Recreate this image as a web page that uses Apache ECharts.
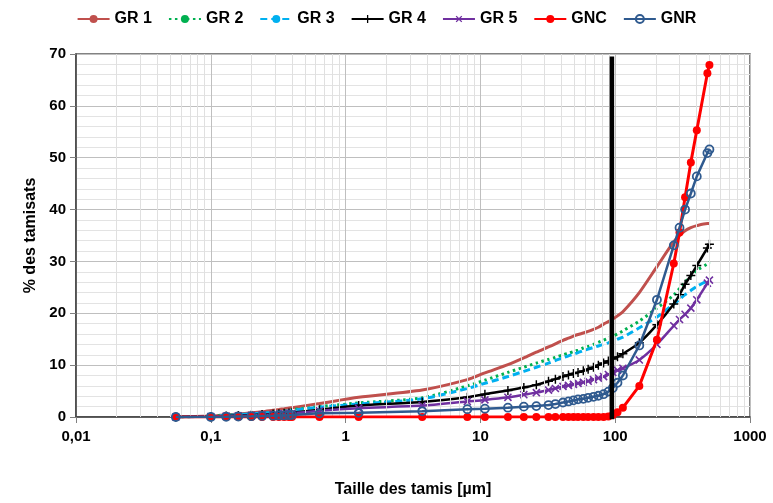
<!DOCTYPE html>
<html>
<head>
<meta charset="utf-8">
<script src="https://cdn.jsdelivr.net/npm/echarts@6/dist/echarts.min.js"></script>
<style>
html, body { margin: 0; padding: 0; background: #fff; }
#chart { width: 773px; height: 503px; }
</style>
</head>
<body>
<div id="chart"></div>
<script>
// tailles des tamis (µm)
var sizes = [0.055, 0.1, 0.13, 0.16, 0.2, 0.24, 0.29, 0.32, 0.35, 0.38, 0.4, 0.64, 1.25, 3.7, 8, 10.8, 16, 21, 26, 32, 36, 41, 45, 49, 53, 58, 63, 69, 75, 82, 89, 96, 104, 114, 151, 204, 272, 300, 330, 364, 403, 483, 500];

var gr1 = [0, 0.2, 0.4, 0.6, 0.8, 1.0, 1.3, 1.45, 1.6, 1.75, 1.8, 2.6, 3.8, 5.2, 7.2, 8.5, 10.1, 11.4, 12.5, 13.5, 14.1, 14.8, 15.2, 15.6, 15.9, 16.2, 16.5, 16.9, 17.3, 17.9, 18.4, 18.9, 19.5, 20.3, 24.0, 29.0, 33.8, 35.0, 35.9, 36.5, 36.9, 37.3, 37.3];
var gr2 = [0, 0.15, 0.3, 0.45, 0.6, 0.75, 0.95, 1.05, 1.15, 1.25, 1.4, 2.0, 2.7, 3.7, 6.0, 7.1, 8.6, 9.6, 10.4, 11.1, 11.5, 12.0, 12.3, 12.6, 12.9, 13.3, 13.6, 14.0, 14.4, 14.8, 15.2, 15.6, 16.0, 16.6, 18.5, 21.0, 23.5, 24.8, 26.0, 27.2, 28.3, 29.5, 29.9];
var gr3 = [0, 0.15, 0.3, 0.45, 0.6, 0.75, 0.9, 1.0, 1.1, 1.2, 1.3, 1.9, 2.5, 3.5, 5.5, 6.5, 7.8, 8.8, 9.6, 10.4, 10.9, 11.4, 11.8, 12.1, 12.4, 12.8, 13.1, 13.4, 13.7, 14.0, 14.3, 14.6, 15.0, 15.4, 17.2, 19.3, 21.8, 22.7, 23.6, 24.4, 25.2, 26.3, 26.6];
var gr4 = [0, 0.1, 0.2, 0.3, 0.4, 0.5, 0.6, 0.65, 0.7, 0.75, 0.8, 1.4, 2.2, 2.9, 3.8, 4.4, 5.1, 5.7, 6.2, 6.9, 7.3, 7.8, 8.1, 8.4, 8.6, 8.9, 9.2, 9.6, 10.0, 10.4, 10.8, 11.2, 11.6, 12.2, 14.3, 17.8, 21.8, 23.6, 25.6, 27.3, 29.2, 32.6, 33.3];
var gr5 = [0, 0.1, 0.15, 0.2, 0.3, 0.4, 0.5, 0.55, 0.6, 0.65, 0.7, 1.2, 1.7, 2.2, 3.0, 3.3, 3.8, 4.3, 4.7, 5.2, 5.5, 5.9, 6.1, 6.3, 6.5, 6.7, 6.9, 7.2, 7.5, 7.8, 8.2, 8.6, 9.0, 9.4, 11.0, 14.0, 17.6, 18.8, 19.8, 21.0, 22.6, 25.8, 26.4];
var gnc = [0, 0, 0, 0, 0, 0, 0, 0, 0, 0, 0, 0, 0, 0, 0, 0, 0, 0, 0, 0, 0, 0, 0, 0, 0, 0, 0, 0, 0, 0, 0.1, 0.4, 0.9, 1.8, 6.0, 14.9, 29.6, 35.6, 42.4, 49.1, 55.3, 66.3, 67.9];
var gnr = [0, 0, 0.05, 0.1, 0.15, 0.2, 0.25, 0.3, 0.3, 0.35, 0.4, 0.7, 0.8, 1.1, 1.5, 1.6, 1.8, 2.0, 2.1, 2.3, 2.5, 2.8, 3.0, 3.2, 3.4, 3.5, 3.7, 3.9, 4.1, 4.4, 4.9, 5.6, 6.6, 8.0, 13.8, 22.6, 33.1, 36.5, 40.0, 43.1, 46.4, 50.9, 51.6];

var xTickLabels = ['0,01', '0,1', '1', '10', '100', '1000'];
// trait vertical noir (taille, bas, haut)
var cutSize = 94.5;
var cutFrom = -0.8;
var cutTo = 69.5;

function pairs(vals) {
	var out = [];
	for (var i = 0; i < sizes.length; i++) {
		out.push([sizes[i], vals[i]]);
	}
	return out;
}

// quadrillage secondaire log (2..9 de chaque décade)
var minorLines = [];
[0.01, 0.1, 1, 10, 100].forEach(function (d) {
	for (var k = 2; k <= 9; k++) {
		minorLines.push({ xAxis: k * d });
	}
});

var plus = 'path://M4.2,0h1.6v4.2h4.2v1.6h-4.2v4.2h-1.6v-4.2h-4.2v-1.6h4.2z';
var font = 'Liberation Sans';

var myChart = echarts.init(document.getElementById('chart'));
var option = {
	animation: false,
	textStyle: { fontFamily: font },
	legend: {
		top: 6,
		left: 'center',
		itemGap: 16,
		itemWidth: 32,
		itemHeight: 10,
		textStyle: { fontFamily: font, fontWeight: 'bold', fontSize: 16, color: '#000' },
		data: ['GR 1', 'GR 2', 'GR 3', 'GR 4', 'GR 5', 'GNC', 'GNR']
	},
	grid: {
		left: 76,
		right: 23,
		top: 54,
		bottom: 86,
		show: true,
		borderColor: '#595959',
		borderWidth: 1.5
	},
	xAxis: {
		type: 'log',
		logBase: 10,
		min: 0.01,
		max: 1000,
		name: 'Taille des tamis [µm]',
		nameLocation: 'middle',
		nameGap: 65,
		nameTextStyle: { fontFamily: font, fontWeight: 'bold', fontSize: 16, color: '#000' },
		axisLine: { show: true, lineStyle: { color: '#404040', width: 1.5 } },
		axisTick: { show: true, length: 6, lineStyle: { color: '#808080' } },
		axisLabel: {
			margin: 12,
			fontFamily: font, fontWeight: 'bold', fontSize: 15, color: '#000',
			formatter: function (v) {
				return xTickLabels[Math.round(Math.log10(v)) + 2];
			}
		},
		splitLine: { show: true, lineStyle: { color: '#bfbfbf', width: 1 } }
	},
	yAxis: {
		type: 'value',
		min: 0,
		max: 70,
		interval: 10,
		name: '% des tamisats',
		nameLocation: 'middle',
		nameGap: 33,
		nameTextStyle: { fontFamily: font, fontWeight: 'bold', fontSize: 16, color: '#000' },
		axisLine: { show: true, lineStyle: { color: '#404040', width: 1.5 } },
		axisTick: { show: true, length: 6, lineStyle: { color: '#808080' } },
		axisLabel: { margin: 10, fontFamily: font, fontWeight: 'bold', fontSize: 15, color: '#000' },
		splitLine: { show: true, lineStyle: { color: '#bfbfbf', width: 1 } },
		minorTick: { show: false, splitNumber: 5 },
		minorSplitLine: { show: true, lineStyle: { color: '#e3e3e3', width: 1 } }
	},
	series: [
		{
			name: 'GR 1', type: 'line', smooth: 0.25, symbol: 'none',
			color: '#C0504D',
			lineStyle: { width: 3, color: '#C0504D' },
			data: pairs(gr1),
			markLine: {
				silent: true, symbol: 'none', label: { show: false },
				lineStyle: { color: '#e0e0e0', width: 1, type: 'solid' },
				data: minorLines
			},
			z: 2
		},
		{
			name: 'GR 2', type: 'line', smooth: 0.25, symbol: 'none',
			color: '#00B050',
			lineStyle: { width: 3, color: '#00B050', type: [2.5, 3.5] },
			data: pairs(gr2),
			z: 3
		},
		{
			name: 'GR 3', type: 'line', smooth: 0.25, symbol: 'none',
			color: '#00B0F0',
			lineStyle: { width: 3, color: '#00B0F0', type: [7, 4] },
			data: pairs(gr3),
			z: 3
		},
		{
			name: 'GR 4', type: 'line', smooth: 0.25, symbol: plus, symbolSize: 9,
			color: '#000000',
			itemStyle: { color: '#000000' },
			lineStyle: { width: 2.5, color: '#000000' },
			data: pairs(gr4),
			z: 4
		},
		{
			name: 'GR 5', type: 'line', smooth: 0.25, symbol: plus, symbolSize: 10, symbolRotate: 45,
			color: '#7030A0',
			itemStyle: { color: '#7030A0' },
			lineStyle: { width: 2.5, color: '#7030A0' },
			data: pairs(gr5),
			z: 4
		},
		{
			name: 'GNC', type: 'line', symbol: 'circle', symbolSize: 8,
			color: '#FF0000',
			itemStyle: { color: '#FF0000' },
			lineStyle: { width: 3, color: '#FF0000' },
			data: pairs(gnc),
			z: 5
		},
		{
			name: 'GNR', type: 'line', symbol: 'circle', symbolSize: 8,
			color: '#2F5A8F',
			itemStyle: { color: 'rgba(255,255,255,0)', borderColor: '#2F5A8F', borderWidth: 1.8 },
			lineStyle: { width: 2.5, color: '#2F5A8F' },
			data: pairs(gnr),
			z: 6
		},
		{
			name: 'limite', type: 'line', symbol: 'none', silent: true,
			lineStyle: { width: 4.5, color: '#000' },
			data: [[cutSize, cutFrom], [cutSize, cutTo]],
			z: 7
		}
	]
};
myChart.setOption(option);
</script>
</body>
</html>
